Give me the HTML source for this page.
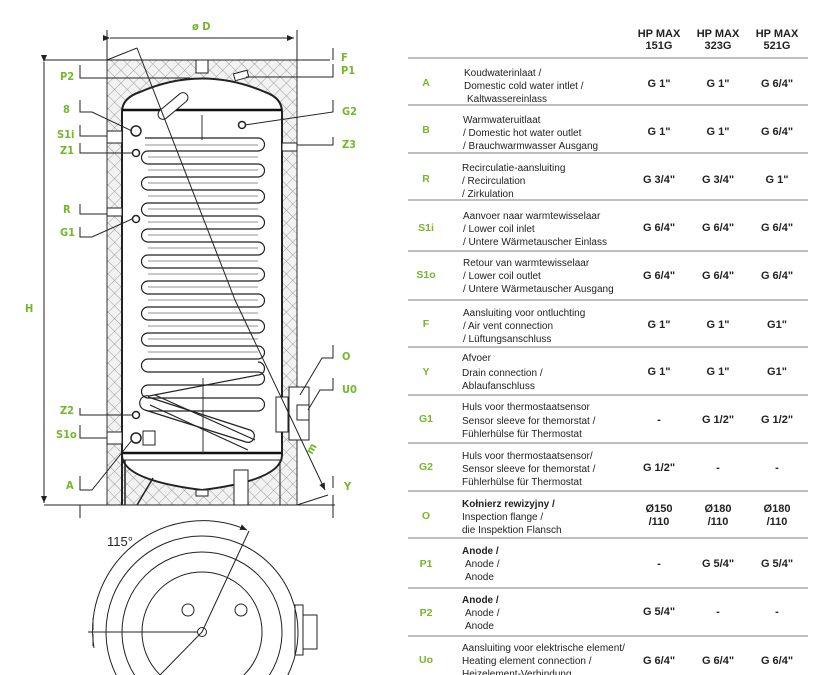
<!DOCTYPE html>
<html><head><meta charset="utf-8"><style>
html,body{margin:0;padding:0;background:#fff;width:816px;height:675px;overflow:hidden}
svg{display:block}
.g{fill:#72b82a;font-family:"DejaVu Sans Condensed","Liberation Sans",sans-serif;font-weight:bold;font-size:11px}
.t{font-family:"Liberation Sans",sans-serif;font-size:10px;fill:#222}
.v{font-family:"Liberation Sans",sans-serif;font-size:11px;font-weight:bold;fill:#222;text-anchor:middle}
.l{font-family:"Liberation Sans",sans-serif;font-size:10.5px;font-weight:bold;fill:#72b82a;text-anchor:middle}
</style></head><body>
<svg width="816" height="675" viewBox="0 0 816 675" xmlns="http://www.w3.org/2000/svg">
<defs>
<pattern id="h" width="9" height="9" patternUnits="userSpaceOnUse" patternTransform="rotate(45)">
<rect width="9" height="9" fill="#f2f2f2"/>
<path d="M0 0H9M0 0V9" stroke="#999" stroke-width="0.9"/>
</pattern>
<marker id="a" markerWidth="8" markerHeight="8" refX="7" refY="4" orient="auto"><path d="M0 1L7 4L0 7z" fill="#222"/></marker>
</defs>
<rect x="107" y="60" width="190" height="445" fill="url(#h)" stroke="#333"/>
<path d="M122 505V112Q122 98 140 92Q202 65 265 92Q282 98 282 112V455Q282 480 202 490Q122 480 122 455z" fill="#fff" stroke="#222" stroke-width="2"/>
<line x1="122" y1="110" x2="282" y2="110" stroke="#111" stroke-width="2.5"/>
<line x1="122" y1="453" x2="282" y2="453" stroke="#111" stroke-width="2.5"/>
<line x1="122" y1="460" x2="282" y2="460" stroke="#222"/>
<line x1="202" y1="115" x2="202" y2="140" stroke="#333"/>
<line x1="203" y1="378" x2="203" y2="453" stroke="#333"/>
<rect x="196" y="60" width="12" height="13" fill="#fff" stroke="#222"/>
<rect x="234" y="72" width="14" height="7" fill="#fff" stroke="#222" transform="rotate(-15 241 75)"/>
<g fill="none" stroke="#222" stroke-width="1.2">
<path d="M145 138 H258 a6.5 6.5 0 0 1 0 13 H148 a6.5 6.5 0 0 0 0 13 H258 a6.5 6.5 0 0 1 0 13 H148 a6.5 6.5 0 0 0 0 13 H258 a6.5 6.5 0 0 1 0 13 H148 a6.5 6.5 0 0 0 0 13 H258 a6.5 6.5 0 0 1 0 13 H148 a6.5 6.5 0 0 0 0 13 H258 a6.5 6.5 0 0 1 0 13 H148 a6.5 6.5 0 0 0 0 13 H258 a6.5 6.5 0 0 1 0 13 H148 a6.5 6.5 0 0 0 0 13 H258 a6.5 6.5 0 0 1 0 13 H148 a6.5 6.5 0 0 0 0 13 H258 a6.5 6.5 0 0 1 0 13 H148 a6.5 6.5 0 0 0 0 13 H258 a6.5 6.5 0 0 1 0 13 H148 a6.5 6.5 0 0 0 0 13 H258 a6.5 6.5 0 0 1 0 13 H148 a6.5 6.5 0 0 0 0 13 H258 a6.5 6.5 0 0 1 0 13 H148"/>
<path d="M145 145 H258 M148 157 H258 M148 170 H258 M148 183 H258 M148 196 H258 M148 209 H258 M148 222 H258 M148 235 H258 M148 248 H258 M148 261 H258 M148 274 H258 M148 287 H258 M148 300 H258 M148 313 H258 M148 326 H258 M148 339 H258 M148 352 H258" stroke-width="0.6"/>
<path d="M148 397 L250 430 a6 6 0 0 1 -4 12 L145 410 a6 6 0 0 1 4 -14 L258 375 a6 6 0 0 0 0 -13"/>
<path d="M155 395 L255 440 M150 405 L248 450"/>
</g>
<rect x="168" y="88" width="10" height="36" rx="5" fill="#fff" stroke="#222" transform="rotate(50 173 106)"/>
<circle cx="136" cy="131" r="5" fill="#fff" stroke="#222" stroke-width="1.5"/>
<circle cx="136" cy="153" r="3.5" fill="#fff" stroke="#222" stroke-width="1.5"/>
<circle cx="136" cy="219" r="3.5" fill="#fff" stroke="#222" stroke-width="1.5"/>
<circle cx="242" cy="125" r="3.5" fill="#fff" stroke="#222" stroke-width="1.5"/>
<circle cx="136" cy="415" r="3.5" fill="#fff" stroke="#222" stroke-width="1.5"/>
<circle cx="136" cy="438" r="5" fill="#fff" stroke="#222" stroke-width="1.5"/>
<rect x="107" y="131" width="15" height="12" fill="#fff" stroke="#222"/>
<rect x="107" y="208" width="15" height="8" fill="#fff" stroke="#222"/>
<rect x="107" y="432" width="15" height="12" fill="#fff" stroke="#222"/>
<rect x="143" y="431" width="12" height="14" fill="#fff" stroke="#222"/>
<rect x="282" y="143" width="15" height="8" fill="#fff" stroke="#222"/>
<rect x="276" y="397" width="12" height="35" fill="#fff" stroke="#222"/>
<rect x="289" y="387" width="20" height="53" fill="#fff" stroke="#222"/>
<rect x="297" y="405" width="12" height="15" fill="#fff" stroke="#222"/>
<rect x="234" y="470" width="14" height="35" fill="#fff" stroke="#222"/>
<rect x="196" y="490" width="12" height="6" fill="#fff" stroke="#222"/>
<path d="M125 460 V505 M137 505 L153 478" stroke="#222" fill="none" stroke-width="1.5"/>
<line x1="280" y1="460" x2="280" y2="505" stroke="#222"/>
<line x1="137" y1="48" x2="235" y2="300" stroke="#222"/>
<line x1="235" y1="300" x2="325" y2="490" stroke="#222" marker-end="url(#a)"/>
<line x1="107" y1="60" x2="137" y2="48" stroke="#222"/>
<line x1="297" y1="505" x2="328" y2="495" stroke="#222"/>
<text x="312" y="455" class="g" font-size="9" transform="rotate(-60 312 455)">m</text>
<line x1="110" y1="38" x2="294" y2="38" stroke="#222" marker-start="url(#a)" marker-end="url(#a)"/>
<line x1="107" y1="30" x2="107" y2="60" stroke="#222"/><line x1="297" y1="30" x2="297" y2="60" stroke="#222"/>
<text x="192" y="30" class="g" font-size="13">ø D</text>
<line x1="44" y1="62" x2="44" y2="503" stroke="#222" marker-start="url(#a)" marker-end="url(#a)"/>
<line x1="44" y1="60" x2="330" y2="60" stroke="#222"/>
<line x1="44" y1="505" x2="335" y2="505" stroke="#222"/>
<text x="25" y="312" class="g">H</text>
<line x1="80" y1="505" x2="80" y2="518" stroke="#222"/><line x1="333" y1="505" x2="333" y2="518" stroke="#222"/>
<g stroke="#222" fill="none">
<path d="M80 65V78H190"/><path d="M80 100V112H92L132 131"/><path d="M80 125V136H107"/><path d="M80 143V153H132"/><path d="M80 204V214H107"/><path d="M80 227V237H92L132 219"/><path d="M80 408V415H132"/><path d="M80 425V438H107"/><path d="M80 476V490H92L132 440"/>
<path d="M333 48V60M333 64V77H246"/><path d="M333 100V112L245 125"/><path d="M333 137V145H297"/><path d="M333 345V358H322L300 395"/><path d="M333 378V390H320L308 410"/><path d="M333 476V488M333 495V505"/>
</g>
<text x="60" y="80" class="g">P2</text><text x="63" y="113" class="g">8</text><text x="57" y="138" class="g">S1i</text><text x="60" y="154" class="g">Z1</text><text x="63" y="213" class="g">R</text><text x="60" y="236" class="g">G1</text><text x="60" y="414" class="g">Z2</text><text x="56" y="438" class="g">S1o</text><text x="66" y="489" class="g">A</text>
<text x="341" y="61" class="g">F</text><text x="341" y="74" class="g">P1</text><text x="342" y="115" class="g">G2</text><text x="342" y="148" class="g">Z3</text><text x="342" y="360" class="g">O</text><text x="342" y="393" class="g">U0</text><text x="344" y="490" class="g">Y</text>
<g fill="none" stroke="#222">
<path d="M94 648 A110 110 0 0 1 247 530" marker-end="url(#a)"/>
<circle cx="202" cy="632" r="96"/><circle cx="202" cy="632" r="80"/><circle cx="202" cy="632" r="60"/>
<circle cx="188" cy="610" r="6"/><circle cx="241" cy="610" r="6"/><circle cx="202" cy="632" r="4.5"/>
<path d="M88 632H198M202 632L249 531M202 632L160 675"/>
<rect x="295" y="605" width="8" height="50"/><rect x="303" y="615" width="14" height="34"/>
<path d="M93 618V630M93 634V646"/>
</g>
<text x="107" y="546" font-family="Liberation Sans,sans-serif" font-size="13" fill="#223">115°</text>
<g stroke="#999" stroke-width="1.2">
<line x1="408" y1="58" x2="808" y2="58"/><line x1="408" y1="105" x2="808" y2="105"/><line x1="408" y1="153" x2="808" y2="153"/><line x1="408" y1="200" x2="808" y2="200"/><line x1="408" y1="251" x2="808" y2="251"/><line x1="408" y1="300" x2="808" y2="300"/><line x1="408" y1="347" x2="808" y2="347"/><line x1="408" y1="395" x2="808" y2="395"/><line x1="408" y1="443" x2="808" y2="443"/><line x1="408" y1="491" x2="808" y2="491"/><line x1="408" y1="538" x2="808" y2="538"/><line x1="408" y1="588" x2="808" y2="588"/><line x1="408" y1="636" x2="808" y2="636"/>
</g>
<text class="v" x="659" y="37">HP MAX</text><text class="v" x="659" y="49">151G</text>
<text class="v" x="718" y="37">HP MAX</text><text class="v" x="718" y="49">323G</text>
<text class="v" x="777" y="37">HP MAX</text><text class="v" x="777" y="49">521G</text>
<g class="t">
<text x="464" y="76">Koudwaterinlaat  /</text><text x="464" y="89">Domestic cold water intlet /</text><text x="467" y="102">Kaltwassereinlass</text>
<text x="463" y="123">Warmwateruitlaat</text><text x="463" y="136">/ Domestic hot water outlet</text><text x="463" y="149">/ Brauchwarmwasser Ausgang</text>
<text x="462" y="171">Recirculatie-aansluiting</text><text x="462" y="184">/ Recirculation</text><text x="462" y="197">/ Zirkulation</text>
<text x="463" y="219">Aanvoer naar warmtewisselaar</text><text x="463" y="232">/ Lower coil inlet</text><text x="463" y="245">/ Untere Wärmetauscher Einlass</text>
<text x="463" y="266">Retour van warmtewisselaar</text><text x="463" y="279">/ Lower coil outlet</text><text x="463" y="292">/ Untere Wärmetauscher Ausgang</text>
<text x="463" y="316">Aansluiting voor ontluchting</text><text x="463" y="329">/ Air vent connection</text><text x="463" y="342">/ Lüftungsanschluss</text>
<text x="462" y="361">Afvoer</text><text x="462" y="376">Drain connection /</text><text x="462" y="389">Ablaufanschluss</text>
<text x="462" y="410">Huls voor thermostaatsensor</text><text x="462" y="424">Sensor sleeve for themorstat /</text><text x="462" y="437">Fühlerhülse für Thermostat</text>
<text x="462" y="459">Huls voor thermostaatsensor/</text><text x="462" y="472">Sensor sleeve for themorstat /</text><text x="462" y="485">Fühlerhülse für Thermostat</text>
<text x="462" y="507" font-weight="bold">Kołnierz rewizyjny /</text><text x="462" y="520">Inspection flange /</text><text x="462" y="533">die Inspektion Flansch</text>
<text x="462" y="554" font-weight="bold">Anode /</text><text x="465" y="567">Anode /</text><text x="465" y="580">Anode</text>
<text x="462" y="603" font-weight="bold">Anode /</text><text x="465" y="616">Anode /</text><text x="465" y="629">Anode</text>
<text x="462" y="651">Aansluiting voor elektrische element/</text><text x="462" y="664">Heating element connection /</text><text x="462" y="677">Heizelement-Verbindung</text>
</g>
<g class="l">
<text x="426" y="86">A</text><text x="426" y="133">B</text><text x="426" y="182">R</text><text x="426" y="231">S1i</text><text x="426" y="278">S1o</text><text x="426" y="327">F</text><text x="426" y="375">Y</text><text x="426" y="422">G1</text><text x="426" y="470">G2</text><text x="426" y="519">O</text><text x="426" y="567">P1</text><text x="426" y="616">P2</text><text x="426" y="663">Uo</text>
</g>
<g class="v">
<text x="659" y="87">G 1"</text><text x="718" y="87">G 1"</text><text x="777" y="87">G 6/4"</text>
<text x="659" y="135">G 1"</text><text x="718" y="135">G 1"</text><text x="777" y="135">G 6/4"</text>
<text x="659" y="183">G 3/4"</text><text x="718" y="183">G 3/4"</text><text x="777" y="183">G 1"</text>
<text x="659" y="231">G 6/4"</text><text x="718" y="231">G 6/4"</text><text x="777" y="231">G 6/4"</text>
<text x="659" y="279">G 6/4"</text><text x="718" y="279">G 6/4"</text><text x="777" y="279">G 6/4"</text>
<text x="659" y="328">G 1"</text><text x="718" y="328">G 1"</text><text x="777" y="328">G1"</text>
<text x="659" y="375">G 1"</text><text x="718" y="375">G 1"</text><text x="777" y="375">G1"</text>
<text x="659" y="423">-</text><text x="718" y="423">G 1/2"</text><text x="777" y="423">G 1/2"</text>
<text x="659" y="471">G 1/2"</text><text x="718" y="471">-</text><text x="777" y="471">-</text>
<text x="659" y="512">Ø150</text><text x="659" y="525">/110</text><text x="718" y="512">Ø180</text><text x="718" y="525">/110</text><text x="777" y="512">Ø180</text><text x="777" y="525">/110</text>
<text x="659" y="567">-</text><text x="718" y="567">G 5/4"</text><text x="777" y="567">G 5/4"</text>
<text x="659" y="615">G 5/4"</text><text x="718" y="615">-</text><text x="777" y="615">-</text>
<text x="659" y="664">G 6/4"</text><text x="718" y="664">G 6/4"</text><text x="777" y="664">G 6/4"</text>
</g>
</svg>
</body></html>
